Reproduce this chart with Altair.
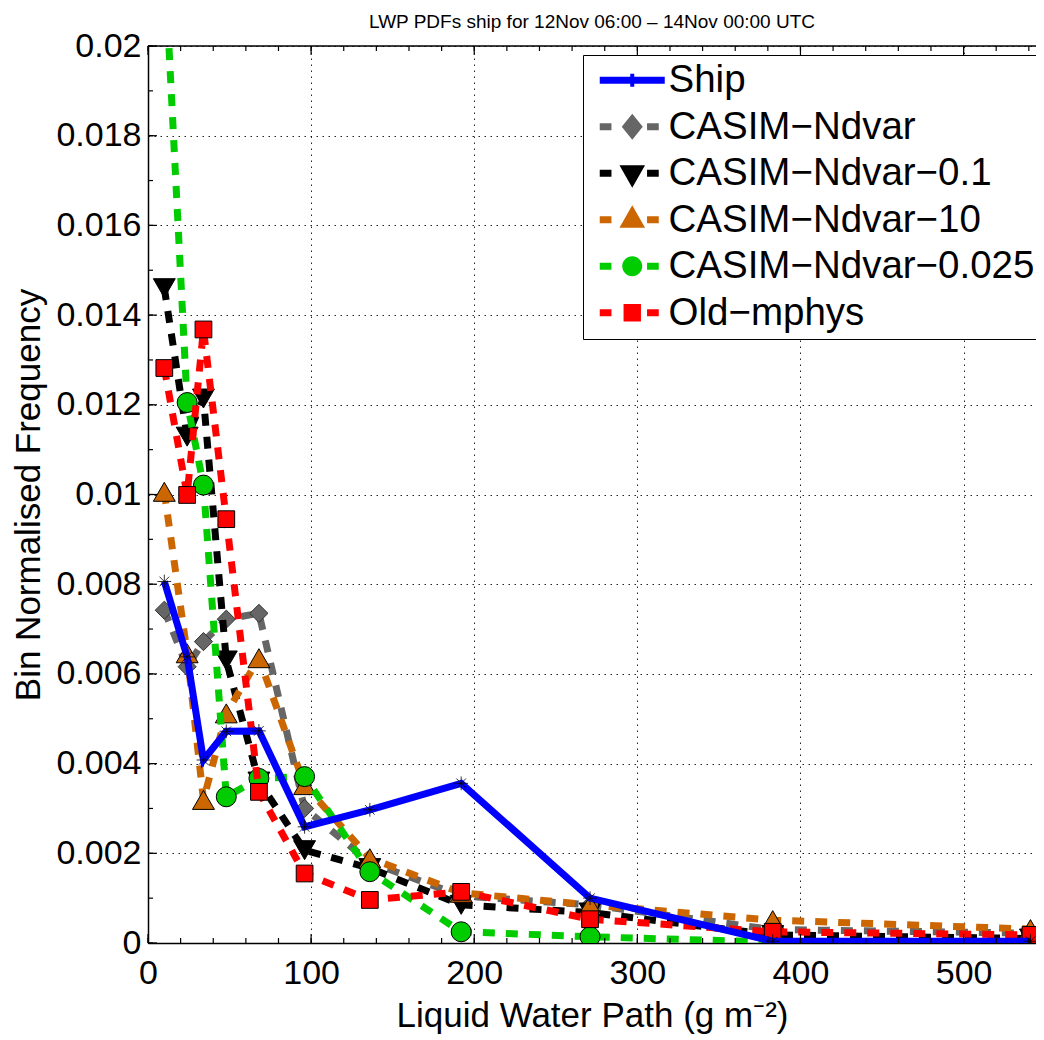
import altair as alt
import numpy as np
import pandas as pd

# LWP bin centres (g m-2)
lwp = [10, 24, 34, 48, 68, 96, 136, 192, 271, 383, 541]

ship = [0.00806, 0.00638, 0.00408, 0.00472, 0.00473, 0.00259, 0.00297,
        0.00356, 0.00100, 0.00004, 0.00004]
ndvar = [0.00742, 0.00616, 0.00672, 0.00722, 0.00735, 0.00300, 0.00180,
         0.00105, 0.00085, 0.00030, 0.00022]
ndvar_01 = [0.01460, 0.01129, 0.01214, 0.00630, 0.00360, 0.00207, 0.00167,
            0.00085, 0.00068, 0.00018, 0.00010]
ndvar_10 = [0.01006, 0.00646, 0.00319, 0.00512, 0.00635, 0.00352, 0.00189,
            0.00112, 0.00085, 0.00051, 0.00031]
ndvar_0025 = [0.02200, 0.01205, 0.01021, 0.00326, 0.00367, 0.00371, 0.00159,
              0.00025, 0.00014, 0.00002, 0.00001]
old_mphys = [0.01282, 0.00999, 0.01368, 0.00945, 0.00337, 0.00155, 0.00096,
             0.00114, 0.00053, 0.00025, 0.00018]

names = ["Ship", "CASIM\u2212Ndvar", "CASIM\u2212Ndvar\u22120.1",
         "CASIM\u2212Ndvar\u221210", "CASIM\u2212Ndvar\u22120.025",
         "Old\u2212mphys"]

W, H = 888, 897
XMAX = 544.4
FONT = "Liberation Sans"

xs = alt.Scale(domain=[0, XMAX], nice=False)
ys = alt.Scale(domain=[0, 0.02], nice=False)

# (values, colour, marker, marker edge, marker size)
styles = [
    (ndvar, "#666666", "diamond", "#333333", 330),
    (ndvar_01, "#000000", "triangle-down", "#000000", 480),
    (ndvar_10, "#CC6600", "triangle-up", "#000000", 480),
    (ndvar_0025, "#00CC00", "circle", "#000000", 400),
    (old_mphys, "#FF0000", "square", "#000000", 280),
]

layers = []
for vals, col, shp, edge, size in styles:
    df = pd.DataFrame({"lwp": lwp, "freq": vals})
    base = alt.Chart(df).encode(x=alt.X("lwp:Q", scale=xs),
                                y=alt.Y("freq:Q", scale=ys))
    layers.append(base.mark_line(color=col, strokeWidth=7,
                                 strokeDash=[12, 11], strokeCap="butt",
                                 clip=True))
    layers.append(base.mark_point(shape=shp, size=size, filled=True,
                                  fill=col, stroke=edge, strokeWidth=1,
                                  opacity=1, clip=True))

ship_df = pd.DataFrame({"lwp": lwp, "freq": ship})
ship_base = alt.Chart(ship_df).encode(x=alt.X("lwp:Q", scale=xs),
                                      y=alt.Y("freq:Q", scale=ys))
star = "M-1,0L1,0M0,-1L0,1M-0.7,-0.7L0.7,0.7M-0.7,0.7L0.7,-0.7"
layers.append(ship_base.mark_line(color="#0000FF", strokeWidth=7, clip=True))
layers.append(ship_base.mark_point(shape=star, size=190, filled=False,
                                   stroke="#000000", strokeWidth=0.8,
                                   opacity=1, clip=True))

# inward ticks (MATLAB style), bottom/top and left
x_major = np.arange(0, 501, 100)
x_minor = np.arange(0, 541, 20)
y_major = np.round(np.arange(0, 0.0201, 0.002), 4)
y_minor = np.round(np.arange(0, 0.0201, 0.001), 4)


def xticks(vals, length):
    d = pd.DataFrame({"v": vals})
    b = alt.Chart(d).mark_rule(color="black", strokeWidth=1.2)
    bot = b.encode(x=alt.X("v:Q", scale=xs), y=alt.value(H),
                   y2=alt.value(H - length))
    top = b.encode(x=alt.X("v:Q", scale=xs), y=alt.value(0),
                   y2=alt.value(length))
    return [bot, top]


def yticks(vals, length):
    d = pd.DataFrame({"v": vals})
    return [alt.Chart(d).mark_rule(color="black", strokeWidth=1.2).encode(
        y=alt.Y("v:Q", scale=ys), x=alt.value(0), x2=alt.value(length))]


ticks = (xticks(x_major, 9) + xticks(x_minor, 5)
         + yticks(y_major, 9) + yticks(y_minor, 5))

top_line = alt.Chart(pd.DataFrame({"a": [0]})).mark_rule(
    color="black", strokeWidth=1.5).encode(
    x=alt.datum(0, scale=xs), x2=alt.datum(XMAX), y=alt.datum(0.02, scale=ys))

# legend: symbols drawn as dash-marker-dash paths
dl = "M-3.25,-0.35H-2.08V0.35H-3.25ZM1.48,-0.35H2.65V0.35H1.48Z"
legend_paths = [
    "M-3.25,-0.35H3.25V0.35H-3.25ZM-0.2,-0.65H0.2V0.65H-0.2Z",
    dl + "M0,-1.3L1.05,0L0,1.3L-1.05,0Z",
    dl + "M-1.28,-0.8H1.28L0,1.45Z",
    dl + "M-1.28,0.8H1.28L0,-1.45Z",
    dl + "M-1,0A1,1 0 1,1 1,0A1,1 0 1,1 -1,0Z",
    dl + "M-0.87,-0.87H0.87V0.87H-0.87Z",
]
legend_colors = ["#0000FF", "#666666", "#000000", "#CC6600", "#00CC00",
                 "#FF0000"]

lg = alt.Legend(title=None, orient="none", legendX=435, legendY=9,
                labelFontSize=38.5, labelFont=FONT, labelColor="black",
                symbolSize=400, symbolStrokeWidth=0, symbolOffset=24,
                labelOffset=17, padding=6, rowPadding=7.5,
                strokeColor="black", fillColor="white", labelLimit=600)

legend_layer = alt.Chart(pd.DataFrame({"series": names})).transform_filter(
    "false").mark_point(filled=True, opacity=1).encode(
    shape=alt.Shape("series:N", scale=alt.Scale(domain=names,
                                                range=legend_paths),
                    legend=lg),
    color=alt.Color("series:N", scale=alt.Scale(domain=names,
                                                range=legend_colors),
                    legend=lg),
)

axis_style = dict(ticks=False, grid=True, gridDash=[1.5, 4.5],
                  gridColor="#000000", gridOpacity=0.85, gridWidth=1,
                  domainColor="black", domainWidth=1.5, labelFontSize=34,
                  labelFont=FONT, labelColor="black", titleFontSize=35,
                  titleFont=FONT, titleFontWeight="normal",
                  titleColor="black", labelFlush=False)

axes = alt.Chart(pd.DataFrame({"a": [0]})).mark_point(opacity=0).encode(
    x=alt.X("a:Q", scale=xs, title="Liquid Water Path (g m\u207b\u00b2)",
            axis=alt.Axis(values=list(x_major), labelPadding=13,
                          titlePadding=8, **axis_style)),
    y=alt.Y("a:Q", scale=ys, title="Bin Normalised Frequency",
            axis=alt.Axis(values=list(y_major), labelPadding=7,
                          titlePadding=9,
                          labelExpr="datum.value == 0 ? '0' : format(datum.value, '.3~f')",
                          **axis_style)),
)

chart = alt.layer(axes, *layers, top_line, *ticks, legend_layer).properties(
    width=W, height=H,
    title=alt.TitleParams("LWP PDFs ship for 12Nov 06:00 \u2013 14Nov 00:00 UTC",
                          font=FONT, fontSize=19, fontWeight="normal",
                          color="black", anchor="middle", frame="group",
                          offset=-3),
    autosize=alt.AutoSizeParams(type="none"),
    padding={"left": 140, "top": 38, "right": 0, "bottom": 94},
).configure_view(stroke=None).configure(background="white")

chart.save("out.html", embed_options={"renderer": "svg", "actions": False})
